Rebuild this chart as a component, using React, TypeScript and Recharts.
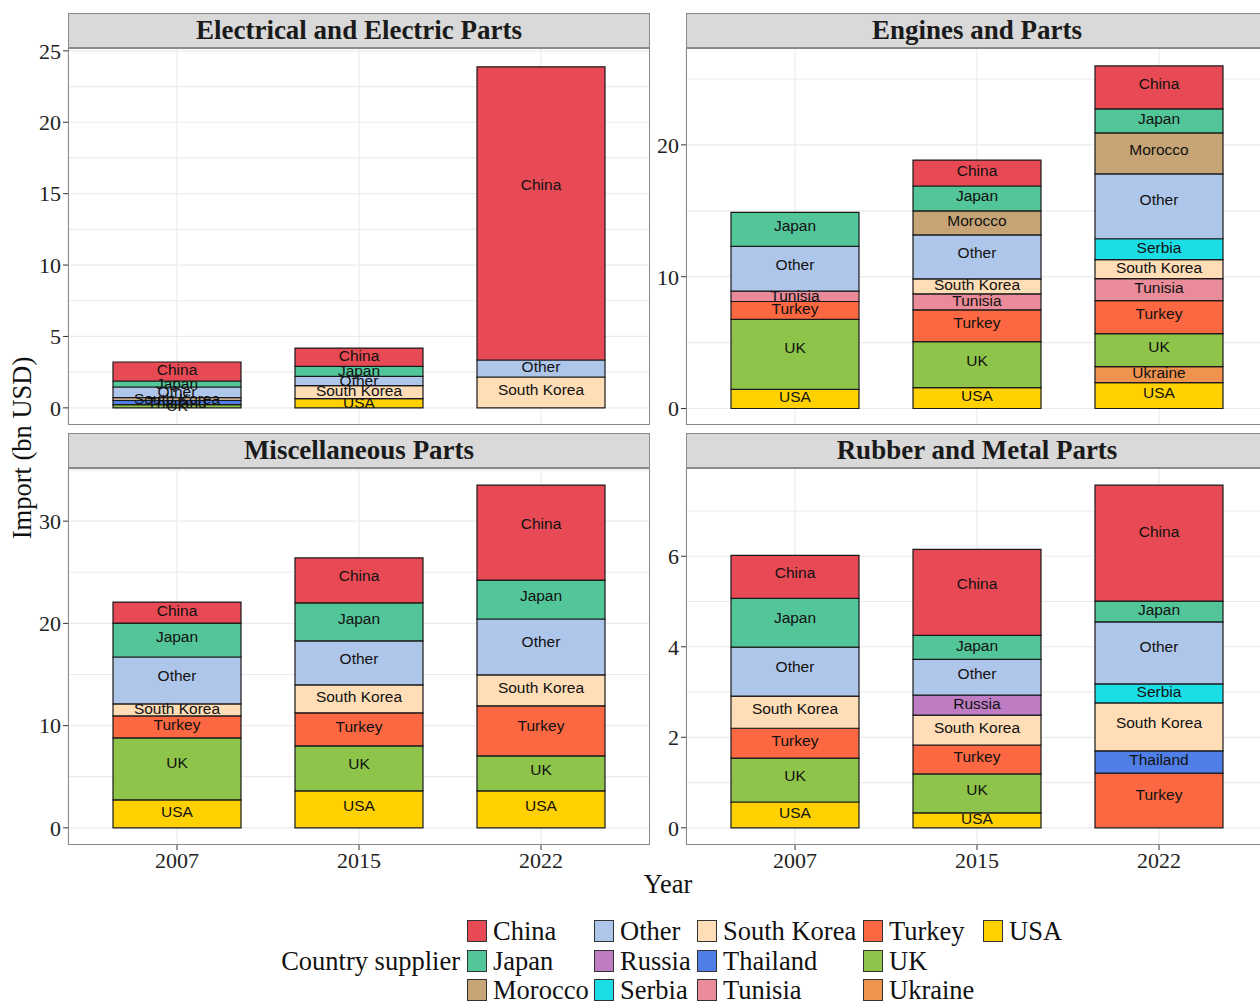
import { BarChart, Bar, XAxis, YAxis, CartesianGrid, LabelList } from "recharts";

const years = ["2007", "2015", "2022"];

const countries = [
  "China", "Japan", "Morocco", "Other", "Russia", "Serbia", "South Korea",
  "Thailand", "Tunisia", "Turkey", "UK", "Ukraine", "USA",
];

const countryColors = [
  "#E84A55", "#53C699", "#C6A476", "#AFC6EB", "#BE7CC3", "#1BDDE6", "#FFDDB6",
  "#4F7FE6", "#E98B98", "#FB6841", "#8EC44A", "#F0934E", "#FFD100",
];

const electricalRows = [
  { year: years[0], China: 1.33, Japan: 0.42, Other: 0.74, "South Korea": 0.19, Thailand: 0.3, UK: 0.23 },
  { year: years[1], China: 1.28, Japan: 0.7, Other: 0.65, "South Korea": 0.91, USA: 0.65 },
  { year: years[2], China: 20.53, Other: 1.19, "South Korea": 2.16 },
];

const enginesRows = [
  { year: years[0], Japan: 2.58, Other: 3.4, Tunisia: 0.78, Turkey: 1.36, UK: 5.3, USA: 1.46 },
  { year: years[1], China: 1.97, Japan: 1.89, Morocco: 1.82, Other: 3.33, "South Korea": 1.14, Tunisia: 1.21, Turkey: 2.42, UK: 3.48, USA: 1.59 },
  { year: years[2], China: 3.26, Japan: 1.82, Morocco: 3.11, Other: 4.92, Serbia: 1.59, "South Korea": 1.44, Tunisia: 1.67, Turkey: 2.5, UK: 2.5, Ukraine: 1.21, USA: 1.97 },
];

const miscRows = [
  { year: years[0], China: 2.05, Japan: 3.32, Other: 4.59, "South Korea": 1.17, Turkey: 2.15, UK: 6.06, USA: 2.74 },
  { year: years[1], China: 4.4, Japan: 3.71, Other: 4.3, "South Korea": 2.74, Turkey: 3.23, UK: 4.4, USA: 3.62 },
  { year: years[2], China: 9.29, Japan: 3.81, Other: 5.47, "South Korea": 3.03, Turkey: 4.89, UK: 3.42, USA: 3.62 },
];

const rubberRows = [
  { year: years[0], China: 0.95, Japan: 1.08, Other: 1.08, "South Korea": 0.71, Turkey: 0.66, UK: 0.97, USA: 0.57 },
  { year: years[1], China: 1.9, Japan: 0.53, Other: 0.79, Russia: 0.44, "South Korea": 0.66, Turkey: 0.64, UK: 0.86, USA: 0.33 },
  { year: years[2], China: 2.56, Japan: 0.46, Other: 1.37, Serbia: 0.42, "South Korea": 1.06, Thailand: 0.49, Turkey: 1.21 },
];

const serif = "'Liberation Serif', 'DejaVu Serif', serif";
const sans = "'Liberation Sans', Arial, sans-serif";

const PANEL_W = 582;
const PLOT_H = 377;
const STRIP_H = 35;
const AXIS_W = 60;
const TOP_PAD = 16;

// labels sit a bit above the middle of each segment (vjust 0.6)
function labelFor(name: string) {
  return (props: any) => {
    const { x, y, width, height, value } = props;
    if (typeof value !== "number" || !(value > 0) || !(height > 0)) return null;
    return (
      <text
        x={x + width / 2}
        y={y + height * 0.4}
        textAnchor="middle"
        dominantBaseline="central"
        fontFamily={sans}
        fontSize={15.5}
        fill="#111"
      >
        {name}
      </text>
    );
  };
}

function Facet({ title, rows, domain, ticks, minor, left, top, showX }: any) {
  const stackOrder = [...countries].reverse();
  return (
    <div style={{ position: "absolute", left, top, width: PANEL_W, height: STRIP_H + PLOT_H }}>
      <div
        style={{
          position: "absolute", left: 0, top: 0, width: PANEL_W, height: STRIP_H,
          boxSizing: "border-box", background: "#d9d9d9", border: "1px solid #8a8a8a",
          display: "flex", alignItems: "center", justifyContent: "center",
          fontFamily: serif, fontWeight: "bold", fontSize: 27, color: "#1a1a1a",
        }}
      >
        {title}
      </div>
      <div style={{ position: "absolute", left: -AXIS_W, top: STRIP_H - TOP_PAD }}>
        <BarChart
          width={PANEL_W + AXIS_W}
          height={PLOT_H + TOP_PAD + (showX ? 45 : 0)}
          data={rows}
          margin={{ top: TOP_PAD, right: 0, bottom: 0, left: 0 }}
          barSize={128}
        >
          <CartesianGrid stroke="#ebebeb" strokeWidth={1.2} horizontalValues={minor} />
          <XAxis
            dataKey="year"
            hide={!showX}
            height={45}
            padding={{ left: 18, right: 18 }}
            axisLine={false}
            tickLine={{ stroke: "#333" }}
            tickSize={5}
            tickMargin={2}
            tick={{ fill: "#222", fontSize: 22, fontFamily: serif }}
          />
          <YAxis
            type="number"
            domain={domain}
            ticks={ticks}
            allowDataOverflow
            width={AXIS_W}
            axisLine={false}
            tickLine={{ stroke: "#333" }}
            tickSize={5}
            tickMargin={2}
            tick={{ fill: "#222", fontSize: 22, fontFamily: serif }}
          />
          {stackOrder.map((c) => (
            <Bar
              key={c}
              dataKey={c}
              stackId="s"
              fill={countryColors[countries.indexOf(c)]}
              stroke="#1a1a1a"
              strokeWidth={1.2}
              isAnimationActive={false}
            >
              <LabelList dataKey={c} content={labelFor(c)} />
            </Bar>
          ))}
        </BarChart>
      </div>
      <div
        style={{
          position: "absolute", left: 0, top: STRIP_H, width: PANEL_W, height: PLOT_H,
          boxSizing: "border-box", border: "1px solid #8a8a8a", pointerEvents: "none",
        }}
      />
    </div>
  );
}

const legendCols = [467, 594, 697, 863, 983];
const legendRows = [931, 961, 990];

const titleStyle = {
  fontFamily: serif, fontSize: 26.5, lineHeight: "24px", color: "#111", whiteSpace: "nowrap" as const,
};

export default function App() {
  return (
    <div style={{ position: "absolute", left: 0, top: 0, width: 1260, height: 1003, overflow: "hidden", background: "#fff" }}>
      <Facet
        title="Electrical and Electric Parts" rows={electricalRows}
        domain={[-1.2, 25.2]} ticks={[0, 5, 10, 15, 20, 25]}
        minor={[0, 2.5, 5, 7.5, 10, 12.5, 15, 17.5, 20, 22.5, 25]}
        left={68} top={13} showX={false}
      />
      <Facet
        title="Engines and Parts" rows={enginesRows}
        domain={[-1.25, 27.35]} ticks={[0, 10, 20]}
        minor={[0, 5, 10, 15, 20, 25]}
        left={686} top={13} showX={false}
      />
      <Facet
        title="Miscellaneous Parts" rows={miscRows}
        domain={[-1.68, 35.2]} ticks={[0, 10, 20, 30]}
        minor={[0, 5, 10, 15, 20, 25, 30, 35]}
        left={68} top={433} showX={true}
      />
      <Facet
        title="Rubber and Metal Parts" rows={rubberRows}
        domain={[-0.38, 7.95]} ticks={[0, 2, 4, 6]}
        minor={[0, 1, 2, 3, 4, 5, 6, 7]}
        left={686} top={433} showX={true}
      />
      <div style={{ ...titleStyle, position: "absolute", left: 22, top: 448, transform: "translate(-50%, -50%) rotate(-90deg)" }}>
        Import (bn USD)
      </div>
      <div style={{ ...titleStyle, position: "absolute", left: 668, top: 884, transform: "translate(-50%, -50%)" }}>
        Year
      </div>
      <div style={{ ...titleStyle, position: "absolute", right: 1260 - 460, top: 961, transform: "translateY(-50%)" }}>
        Country supplier
      </div>
      {countries.map((c, i) => {
        const x = legendCols[Math.floor(i / 3)];
        const y = legendRows[i % 3];
        return (
          <div key={c}>
            <div
              style={{
                position: "absolute", left: x, top: y - 11, width: 20, height: 22,
                boxSizing: "border-box", background: countryColors[i], border: "1.5px solid #333",
              }}
            />
            <div style={{ ...titleStyle, position: "absolute", left: x + 26, top: y, transform: "translateY(-50%)" }}>
              {c}
            </div>
          </div>
        );
      })}
    </div>
  );
}
